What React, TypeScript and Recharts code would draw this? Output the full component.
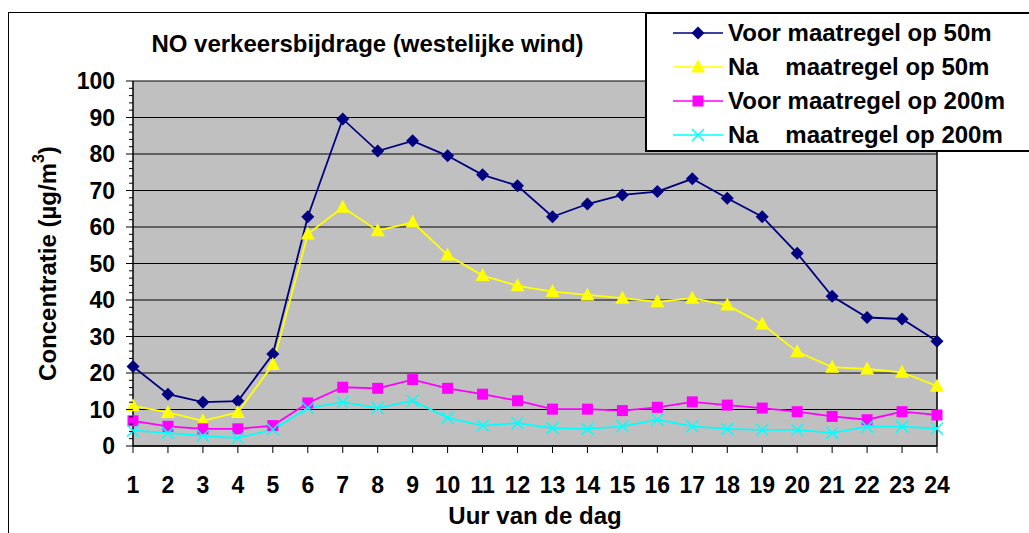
import React from 'react';
import { CartesianGrid, Legend, Line, LineChart, ReferenceLine, XAxis, YAxis } from 'recharts';

const FONT = '"Liberation Sans", Arial, sans-serif';

const hours = [1, 2, 3, 4, 5, 6, 7, 8, 9, 10, 11, 12, 13, 14, 15, 16, 17, 18, 19, 20, 21, 22, 23, 24];
const voor50 = [21.8, 14.2, 12.0, 12.3, 25.2, 62.8, 89.6, 80.8, 83.6, 79.5, 74.3, 71.3, 62.8, 66.3, 68.8, 69.7, 73.2, 67.9, 62.8, 52.8, 41.0, 35.2, 34.8, 28.7];
const na50 = [11.0, 9.2, 6.9, 9.2, 22.3, 58.1, 65.4, 59.0, 61.3, 52.3, 46.7, 43.9, 42.3, 41.4, 40.5, 39.5, 40.5, 38.6, 33.4, 25.8, 21.6, 21.1, 20.2, 16.4];
const voor200 = [6.9, 5.4, 4.7, 4.7, 5.6, 11.8, 16.1, 15.8, 18.2, 15.8, 14.2, 12.4, 10.1, 10.1, 9.7, 10.6, 12.1, 11.2, 10.4, 9.4, 8.1, 7.2, 9.4, 8.5];
const na200 = [4.2, 3.6, 2.8, 2.2, 4.5, 10.4, 12.0, 10.4, 12.4, 7.7, 5.6, 6.3, 4.9, 4.7, 5.4, 7.2, 5.4, 4.7, 4.4, 4.4, 3.6, 5.3, 5.3, 4.8];

const majorTicks = [0, 10, 20, 30, 40, 50, 60, 70, 80, 90, 100];
const yTicks = Array.from({ length: 51 }, (_, i) => i * 2);

const series = [
  { key: 'voor50', name: 'Voor maatregel op 50m', color: '#000080', shape: 'diamond' },
  { key: 'na50', name: 'Na    maatregel op 50m', color: '#FFFF00', shape: 'triangle' },
  { key: 'voor200', name: 'Voor maatregel op 200m', color: '#FF00FF', shape: 'square' },
  { key: 'na200', name: 'Na    maatregel op 200m', color: '#00FFFF', shape: 'cross' },
];

const data = hours.map((h, i) => ({
  hour: h,
  voor50: voor50[i],
  na50: na50[i],
  voor200: voor200[i],
  na200: na200[i],
}));

function Marker({ shape, color, cx, cy }: { shape: string; color: string; cx: number; cy: number }) {
  if (shape === 'diamond') {
    return <polygon points={`${cx},${cy - 6.5} ${cx + 6.5},${cy} ${cx},${cy + 6.5} ${cx - 6.5},${cy}`} fill={color} />;
  }
  if (shape === 'triangle') {
    return <polygon points={`${cx},${cy - 7.5} ${cx + 7},${cy + 5.5} ${cx - 7},${cy + 5.5}`} fill={color} />;
  }
  if (shape === 'square') {
    return <rect x={cx - 5.5} y={cy - 5.5} width={11} height={11} fill={color} />;
  }
  return (
    <g stroke={color} strokeWidth={1.5}>
      <line x1={cx - 6} y1={cy - 6} x2={cx + 6} y2={cy + 6} />
      <line x1={cx - 6} y1={cy + 6} x2={cx + 6} y2={cy - 6} />
    </g>
  );
}

function YTick({ x, y, payload }: any) {
  const major = payload.value % 10 === 0;
  return (
    <g>
      <line x1={x - (major ? 7 : 4)} y1={y} x2={x} y2={y} stroke="#000" strokeWidth={1} />
      {major && (
        <text x={x - 18} y={y + 8} textAnchor="end" fontFamily={FONT} fontWeight="bold" fontSize={23} fill="#000">
          {payload.value}
        </text>
      )}
    </g>
  );
}

function XTick({ x, y, payload }: any) {
  return (
    <g>
      <line x1={x} y1={y} x2={x} y2={y + 7} stroke="#000" strokeWidth={1} />
      <text x={x} y={y + 47} textAnchor="middle" fontFamily={FONT} fontWeight="bold" fontSize={23} fill="#000">
        {payload.value}
      </text>
    </g>
  );
}

function YTitle({ viewBox }: any) {
  const cx = viewBox.x + 47;
  const cy = viewBox.y + viewBox.height / 2;
  return (
    <text
      x={cx}
      y={cy}
      transform={`rotate(-90, ${cx}, ${cy})`}
      textAnchor="middle"
      dominantBaseline="central"
      fontFamily={FONT}
      fontWeight="bold"
      fontSize={24}
      fill="#000"
    >
      Concentratie (µg/m<tspan dy={-9} fontSize={16}>3</tspan>
      <tspan dy={9}>)</tspan>
    </text>
  );
}

function XTitle({ viewBox }: any) {
  return (
    <text
      x={viewBox.x + viewBox.width / 2}
      y={viewBox.y + 78}
      textAnchor="middle"
      fontFamily={FONT}
      fontWeight="bold"
      fontSize={24}
      fill="#000"
    >
      Uur van de dag
    </text>
  );
}

function LegendBox() {
  return (
    <div style={{ paddingTop: 2, paddingLeft: 26 }}>
      {series.map((s) => (
        <div key={s.key} style={{ display: 'flex', alignItems: 'center', height: 34 }}>
          <svg width={50} height={20} style={{ flex: 'none' }}>
            <line x1={0} y1={10} x2={50} y2={10} stroke={s.color} strokeWidth={1.5} />
            <Marker shape={s.shape} color={s.color} cx={25} cy={10} />
          </svg>
          <span
            style={{
              marginLeft: 5,
              fontFamily: FONT,
              fontWeight: 'bold',
              fontSize: 24,
              whiteSpace: 'pre',
              color: '#000',
              lineHeight: '34px',
            }}
          >
            {s.name}
          </span>
        </div>
      ))}
    </div>
  );
}

export default function App() {
  return (
    <div
      style={{
        position: 'fixed',
        left: 0,
        top: 0,
        width: 1029,
        height: 533,
        overflow: 'hidden',
        background: '#fff',
      }}
    >
      <div
        style={{
          position: 'absolute',
          left: 8,
          top: 12,
          width: 1100,
          height: 600,
          border: '1.5px solid #000',
        }}
      />
      <div style={{ position: 'absolute', left: 0, top: 0 }}>
        <LineChart width={1029} height={533} data={data} margin={{ top: 81, right: 92, bottom: 0, left: 0 }}>
          <CartesianGrid
            horizontalValues={majorTicks}
            vertical={false}
            stroke="#000"
            strokeWidth={1.2}
            fill="#C0C0C0"
            fillOpacity={1}
          />
          <XAxis
            dataKey="hour"
            type="number"
            domain={[1, 24]}
            ticks={hours}
            interval={0}
            height={87}
            tickSize={0}
            tickMargin={0}
            tickLine={false}
            axisLine={{ stroke: '#000', strokeWidth: 1.5 }}
            tick={<XTick />}
            label={{ content: (p: any) => <XTitle {...p} /> }}
          />
          <YAxis
            type="number"
            domain={[0, 100]}
            ticks={yTicks}
            interval={0}
            width={133}
            tickSize={0}
            tickMargin={0}
            tickLine={false}
            axisLine={{ stroke: '#000', strokeWidth: 1.5 }}
            tick={<YTick />}
            label={{ content: (p: any) => <YTitle {...p} /> }}
          />
          <ReferenceLine x={24} stroke="#000" strokeWidth={1.5} />
          {series.map((s) => (
            <Line
              key={s.key}
              dataKey={s.key}
              name={s.name}
              stroke={s.color}
              strokeWidth={1.8}
              isAnimationActive={false}
              dot={(p: any) => <Marker key={`${s.key}-${p.index}`} shape={s.shape} color={s.color} cx={p.cx} cy={p.cy} />}
              activeDot={false}
            />
          ))}
          <Legend
            layout="vertical"
            align="center"
            verticalAlign="middle"
            content={() => <LegendBox />}
            wrapperStyle={{
              left: 645,
              top: 12,
              width: 420,
              height: 140,
              boxSizing: 'border-box',
              border: '2px solid #000',
              background: '#fff',
            }}
          />
        </LineChart>
      </div>
      <div
        style={{
          position: 'absolute',
          left: 0,
          top: 32,
          width: 735,
          textAlign: 'center',
          fontFamily: FONT,
          fontWeight: 'bold',
          fontSize: 24,
          lineHeight: '24px',
          color: '#000',
        }}
      >
        NO verkeersbijdrage (westelijke wind)
      </div>
    </div>
  );
}
